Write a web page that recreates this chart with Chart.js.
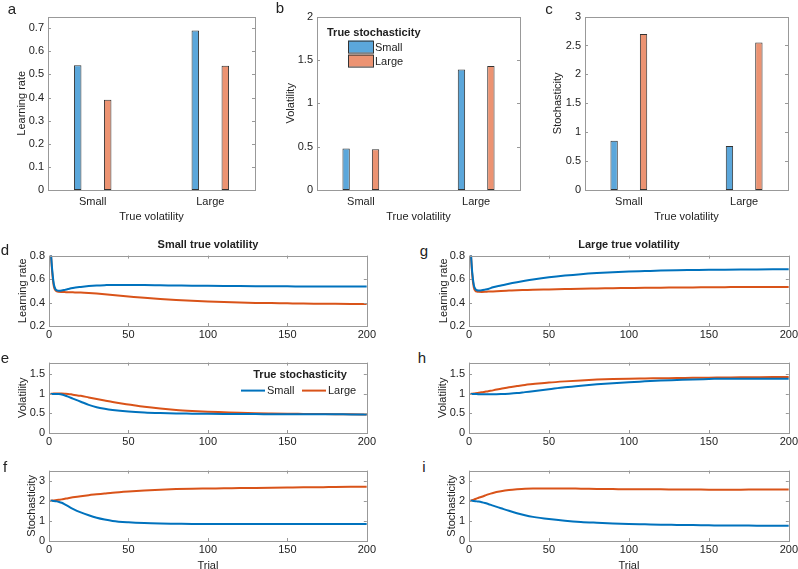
<!DOCTYPE html>
<html>
<head>
<meta charset="utf-8">
<title>Volatility and stochasticity</title>
<script src="https://cdn.jsdelivr.net/npm/chart.js"></script>
<style>
  body { margin: 0; background: #fff; }
  #fig { position: relative; width: 798px; height: 569px; overflow: hidden;
         font-family: 'Liberation Sans', Arial, Helvetica, sans-serif; color: #222; }
  #fig canvas { position: absolute; }
  .lbl { position: absolute; font-size: 15px; line-height: 1; transform: translate(-50%, -50%); }
  .ttl { position: absolute; font-size: 11px; font-weight: bold; line-height: 1; white-space: nowrap;
         transform: translate(-50%, -50%); }
</style>
</head>
<body>
<div id="fig">
  <canvas id="a"></canvas><canvas id="b"></canvas><canvas id="c"></canvas>
  <canvas id="d"></canvas><canvas id="e"></canvas><canvas id="f"></canvas>
  <canvas id="g"></canvas><canvas id="h"></canvas><canvas id="i"></canvas>

  <div class="lbl" style="left:12px;top:8px">a</div>
  <div class="lbl" style="left:280px;top:7px">b</div>
  <div class="lbl" style="left:549px;top:8px">c</div>
  <div class="lbl" style="left:5px;top:249px">d</div>
  <div class="lbl" style="left:5px;top:357px">e</div>
  <div class="lbl" style="left:5px;top:466px">f</div>
  <div class="lbl" style="left:424px;top:250px">g</div>
  <div class="lbl" style="left:422px;top:357px">h</div>
  <div class="lbl" style="left:424px;top:466px">i</div>

  <div class="ttl" style="left:208px;top:244px">Small true volatility</div>
  <div class="ttl" style="left:629px;top:244px">Large true volatility</div>
</div>

<script>
// ---- data ----
const categories = ['Small', 'Large'];          // true volatility
const seriesNames = ['Small', 'Large'];         // true stochasticity

// bar panels, one value per true-volatility category
const lrSmallStoch = [0.54, 0.69];
const lrLargeStoch = [0.39, 0.537];
const volSmallStoch = [0.48, 1.39];
const volLargeStoch = [0.47, 1.43];
const stoSmallStoch = [0.85, 0.76];
const stoLargeStoch = [2.70, 2.55];

// trial curves
const trials = [1, 2, 3, 4, 5, 6, 8, 10, 12, 15, 20, 25, 30, 35, 40, 50, 60, 70, 80, 90, 100,
                110, 120, 130, 140, 150, 160, 170, 180, 190, 200];

// d: learning rate, small true volatility
const lrSmallVolBlue = [0.86, 0.68, 0.56, 0.515, 0.503, 0.5, 0.502, 0.508, 0.515, 0.524, 0.533, 0.54, 0.545, 0.548, 0.55, 0.55,
                        0.549, 0.547, 0.545, 0.543, 0.542, 0.541, 0.54, 0.539, 0.538, 0.538, 0.537, 0.537, 0.537, 0.536, 0.536];
const lrSmallVolOrange = [0.86, 0.66, 0.54, 0.505, 0.495, 0.492, 0.49, 0.489, 0.488, 0.487, 0.485, 0.481, 0.476, 0.47, 0.464, 0.452,
                          0.44, 0.43, 0.422, 0.415, 0.409, 0.404, 0.4, 0.397, 0.395, 0.393, 0.391, 0.39, 0.389, 0.388, 0.387];
// g: learning rate, large true volatility
const lrLargeVolBlue = [0.86, 0.66, 0.55, 0.515, 0.505, 0.503, 0.505, 0.51, 0.516, 0.53, 0.545, 0.56, 0.573, 0.585, 0.596, 0.615,
                        0.63, 0.642, 0.651, 0.658, 0.664, 0.668, 0.672, 0.675, 0.677, 0.679, 0.68, 0.681, 0.682, 0.683, 0.684];
const lrLargeVolOrange = [0.86, 0.64, 0.53, 0.5, 0.493, 0.491, 0.49, 0.491, 0.493, 0.495, 0.499, 0.502, 0.505, 0.507, 0.509, 0.512,
                          0.515, 0.518, 0.52, 0.522, 0.524, 0.526, 0.527, 0.528, 0.529, 0.53, 0.531, 0.532, 0.532, 0.533, 0.533];
// e: volatility, small true volatility
const volSmallVolBlue = [1, 1, 1, 0.999, 0.997, 0.995, 0.985, 0.96, 0.93, 0.88, 0.8, 0.72, 0.66, 0.62, 0.59, 0.55,
                         0.525, 0.51, 0.5, 0.495, 0.49, 0.487, 0.485, 0.483, 0.482, 0.48, 0.479, 0.478, 0.477, 0.476, 0.475];
const volSmallVolOrange = [1, 1.005, 1.008, 1.01, 1.01, 1.01, 1.008, 1.005, 1.0, 0.98, 0.95, 0.91, 0.87, 0.83, 0.79, 0.73,
                           0.67, 0.625, 0.59, 0.565, 0.545, 0.53, 0.515, 0.505, 0.498, 0.492, 0.488, 0.484, 0.48, 0.477, 0.475];
// h: volatility, large true volatility
const volLargeVolBlue = [1, 1, 0.998, 0.996, 0.994, 0.993, 0.99, 0.99, 0.99, 0.99, 0.995, 1.005, 1.02, 1.045, 1.07, 1.12,
                         1.17, 1.21, 1.245, 1.275, 1.3, 1.32, 1.34, 1.355, 1.37, 1.38, 1.39, 1.385, 1.39, 1.39, 1.39];
const volLargeVolOrange = [1, 1.003, 1.008, 1.015, 1.02, 1.027, 1.04, 1.055, 1.07, 1.09, 1.13, 1.17, 1.2, 1.23, 1.25, 1.29,
                           1.32, 1.345, 1.365, 1.38, 1.39, 1.395, 1.4, 1.405, 1.41, 1.415, 1.42, 1.425, 1.428, 1.43, 1.43];
// f: stochasticity, small true volatility
const stoSmallVolBlue = [2, 2, 1.99, 1.98, 1.97, 1.95, 1.9, 1.82, 1.73, 1.6, 1.42, 1.28, 1.16, 1.07, 1.0, 0.93,
                         0.89, 0.87, 0.86, 0.85, 0.845, 0.842, 0.84, 0.84, 0.84, 0.84, 0.84, 0.84, 0.84, 0.84, 0.84];
const stoSmallVolOrange = [2, 2.01, 2.02, 2.03, 2.04, 2.05, 2.07, 2.1, 2.13, 2.17, 2.23, 2.28, 2.32, 2.36, 2.4, 2.46,
                           2.51, 2.55, 2.58, 2.6, 2.61, 2.62, 2.63, 2.64, 2.65, 2.66, 2.67, 2.67, 2.69, 2.7, 2.7];
// i: stochasticity, large true volatility
const stoLargeVolBlue = [2, 2, 1.99, 1.98, 1.97, 1.96, 1.93, 1.89, 1.84, 1.76, 1.63, 1.5, 1.38, 1.28, 1.2, 1.09,
                         1.01, 0.95, 0.91, 0.875, 0.85, 0.83, 0.81, 0.8, 0.79, 0.78, 0.77, 0.77, 0.76, 0.76, 0.76];
const stoLargeVolOrange = [2, 2.03, 2.06, 2.09, 2.12, 2.15, 2.2, 2.26, 2.32, 2.39, 2.47, 2.53, 2.57, 2.6, 2.61, 2.61,
                           2.61, 2.6, 2.59, 2.58, 2.57, 2.57, 2.57, 2.56, 2.56, 2.55, 2.55, 2.55, 2.56, 2.56, 2.56];

// tick labels
const lrBarTicks = [0, 0.1, 0.2, 0.3, 0.4, 0.5, 0.6, 0.7];
const volBarTicks = [0, 0.5, 1, 1.5, 2];
const stoBarTicks = [0, 0.5, 1, 1.5, 2, 2.5, 3];
const trialTicks = [0, 50, 100, 150, 200];
const lrLineTicks = [0.2, 0.4, 0.6, 0.8];
const volLineTicks = [0, 0.5, 1, 1.5];
const stoLineTicks = [0, 1, 2, 3];

// ---- style ----
const FONT = "'Liberation Sans', Arial, Helvetica, sans-serif";
const INK = '#222';
const BOX = '#999';
const BLUE_FILL = '#5BA7DB', ORANGE_FILL = '#EC9372';
const BLUE_LINE = '#0072BD', ORANGE_LINE = '#D95319';
const AXIS_W = 40, PAD_TOP = 8, PAD_RIGHT = 10;

// box around the plot, inward ticks, and an inside legend
const frame = {
    id: 'frame',
    afterDatasetsDraw(chart, args, opts) {
        const ctx = chart.ctx, a = chart.chartArea, sx = chart.scales.x, sy = chart.scales.y;
        ctx.save();
        ctx.strokeStyle = BOX;
        ctx.lineWidth = 1;
        ctx.beginPath();
        if (opts.xTicks) {
            sx.ticks.forEach(tk => {
                const p = Math.round(sx.getPixelForValue(tk.value)) + 0.5;
                ctx.moveTo(p, a.bottom); ctx.lineTo(p, a.bottom - 3);
                ctx.moveTo(p, a.top); ctx.lineTo(p, a.top + 3);
            });
        }
        sy.ticks.forEach(tk => {
            const p = Math.round(sy.getPixelForValue(tk.value)) + 0.5;
            ctx.moveTo(a.left, p); ctx.lineTo(a.left + 3, p);
            ctx.moveTo(a.right, p); ctx.lineTo(a.right - 3, p);
        });
        ctx.stroke();
        ctx.strokeRect(Math.round(a.left) + 0.5, Math.round(a.top) + 0.5, Math.round(a.width), Math.round(a.height));

        const lg = opts.legend;
        if (lg) {
            ctx.fillStyle = INK;
            ctx.textBaseline = 'middle';
            ctx.font = 'bold 11px ' + FONT;
            ctx.textAlign = lg.align;
            ctx.fillText(lg.title, a.left + lg.tx, a.top + lg.ty);
            ctx.font = '11px ' + FONT;
            ctx.textAlign = 'left';
            chart.data.datasets.forEach((ds, k) => {
                const it = lg.items[k];
                const x = a.left + it.x, y = a.top + it.y;
                if (lg.kind === 'box') {
                    ctx.fillStyle = ds.backgroundColor;
                    ctx.fillRect(x, y - 6, 25, 12);
                    ctx.strokeStyle = '#333';
                    ctx.strokeRect(x + 0.5, y - 5.5, 25, 12);
                    ctx.fillStyle = INK;
                    ctx.fillText(ds.label, x + 27, y + 1);
                } else {
                    ctx.strokeStyle = ds.borderColor;
                    ctx.lineWidth = 2;
                    ctx.beginPath(); ctx.moveTo(x, y); ctx.lineTo(x + 24, y); ctx.stroke();
                    ctx.fillStyle = INK;
                    ctx.fillText(ds.label, x + 26, y);
                }
            });
        }
        ctx.restore();
    }
};

function place(id, box, xH) {
    const c = document.getElementById(id);
    const left = box[0] - AXIS_W;
    c.style.left = left + 'px';
    c.style.top = (box[1] - PAD_TOP) + 'px';
    c.width = box[2] - box[0] + AXIS_W + PAD_RIGHT;
    c.height = box[3] - box[1] + PAD_TOP + xH;
    return { c, left };
}

function yAxis(min, max, ticks, label, titlePad) {
    return {
        min: min, max: max,
        grid: { display: false, drawTicks: false }, border: { display: false },
        afterBuildTicks: s => { s.ticks = ticks.map(v => ({ value: v })); },
        ticks: { callback: v => String(v), color: INK, font: { family: FONT, size: 11 }, padding: 4 },
        title: { display: true, text: label, color: INK, font: { family: FONT, size: 11 },
                 padding: { top: titlePad, bottom: 0 } },
        afterFit: s => { s.width = AXIS_W; }
    };
}

function barPanel(id, box, yTitleX, yLabel, yMax, yTicks, blue, orange, legend) {
    const xH = 38;
    const p = place(id, box, xH);
    new Chart(p.c, {
        type: 'bar',
        data: {
            datasets: [
                { label: seriesNames[0], data: blue.map((v, k) => ({ x: k + 1, y: v })),
                  backgroundColor: BLUE_FILL, borderColor: '#333', borderWidth: 1, borderSkipped: false,
                  categoryPercentage: 0.51, barPercentage: 0.25 },
                { label: seriesNames[1], data: orange.map((v, k) => ({ x: k + 1, y: v })),
                  backgroundColor: ORANGE_FILL, borderColor: '#333', borderWidth: 1, borderSkipped: false,
                  categoryPercentage: 0.51, barPercentage: 0.25 }
            ]
        },
        options: {
            responsive: false, animation: false, events: [],
            layout: { padding: { left: 0, top: PAD_TOP, right: PAD_RIGHT, bottom: 0 } },
            plugins: { legend: { display: false }, tooltip: { enabled: false },
                       frame: { legend: legend, xTicks: false } },
            scales: {
                x: {
                    type: 'linear', offset: false, min: 0.62, max: 2.38,
                    grid: { display: false, drawTicks: false }, border: { display: false },
                    afterBuildTicks: s => { s.ticks = categories.map((_, k) => ({ value: k + 1 })); },
                    ticks: { callback: v => categories[v - 1], color: INK, font: { family: FONT, size: 11 },
                             padding: 5, maxRotation: 0, autoSkip: false },
                    title: { display: true, text: 'True volatility', color: INK, font: { family: FONT, size: 11 },
                             padding: { top: 0, bottom: 4 } },
                    afterFit: s => { s.height = xH; }
                },
                y: yAxis(0, yMax, yTicks, yLabel, yTitleX - p.left - 6.6)
            }
        },
        plugins: [frame]
    });
}

function linePanel(id, box, yTitleX, yLabel, yMin, yMax, yTicks, blue, orange, showTrial, legend) {
    const xH = showTrial ? 36 : 20;
    const p = place(id, box, xH);
    const mk = (arr, name, color) => ({
        label: name, data: trials.map((t, k) => ({ x: t, y: arr[k] })),
        borderColor: color, backgroundColor: color, borderWidth: 2, pointRadius: 0,
        cubicInterpolationMode: 'monotone', fill: false
    });
    new Chart(p.c, {
        type: 'line',
        data: { datasets: [mk(blue, seriesNames[0], BLUE_LINE), mk(orange, seriesNames[1], ORANGE_LINE)] },
        options: {
            responsive: false, animation: false, events: [],
            layout: { padding: { left: 0, top: PAD_TOP, right: PAD_RIGHT, bottom: 0 } },
            plugins: { legend: { display: false }, tooltip: { enabled: false },
                       frame: { legend: legend, xTicks: true } },
            scales: {
                x: {
                    type: 'linear', min: 0, max: 200,
                    grid: { display: false, drawTicks: false }, border: { display: false },
                    afterBuildTicks: s => { s.ticks = trialTicks.map(v => ({ value: v })); },
                    ticks: { callback: v => String(v), color: INK, font: { family: FONT, size: 11 },
                             padding: 2, maxRotation: 0, autoSkip: false },
                    title: { display: showTrial, text: 'Trial', color: INK, font: { family: FONT, size: 11 },
                             padding: { top: 0, bottom: 4 } },
                    afterFit: s => { s.height = xH; }
                },
                y: yAxis(yMin, yMax, yTicks, yLabel, yTitleX - p.left - 6.6)
            }
        },
        plugins: [frame]
    });
}

barPanel('a', [48, 14, 255, 190], 22, 'Learning rate', 0.75, lrBarTicks, lrSmallStoch, lrLargeStoch, null);
barPanel('b', [317, 14, 520, 190], 291, 'Volatility', 2, volBarTicks, volSmallStoch, volLargeStoch,
    { kind: 'box', title: 'True stochasticity', align: 'left', tx: 10, ty: 16,
      items: [{ x: 31, y: 30 }, { x: 31, y: 44 }] });
barPanel('c', [585, 14, 788, 190], 558, 'Stochasticity', 3, stoBarTicks, stoSmallStoch, stoLargeStoch, null);

linePanel('d', [49, 253, 368, 326], 23, 'Learning rate', 0.2, 0.8, lrLineTicks, lrSmallVolBlue, lrSmallVolOrange, false, null);
linePanel('e', [49, 360, 368, 433], 23, 'Volatility', 0, 1.8, volLineTicks, volSmallVolBlue, volSmallVolOrange, false,
    { kind: 'line', title: 'True stochasticity', align: 'center', tx: 251, ty: 12,
      items: [{ x: 192, y: 28 }, { x: 253, y: 28 }] });
linePanel('f', [49, 468, 368, 541], 32, 'Stochasticity', 0, 3.5, stoLineTicks, stoSmallVolBlue, stoSmallVolOrange, true, null);

linePanel('g', [469, 253, 790, 326], 444, 'Learning rate', 0.2, 0.8, lrLineTicks, lrLargeVolBlue, lrLargeVolOrange, false, null);
linePanel('h', [469, 360, 790, 433], 443, 'Volatility', 0, 1.8, volLineTicks, volLargeVolBlue, volLargeVolOrange, false, null);
linePanel('i', [469, 468, 790, 541], 452, 'Stochasticity', 0, 3.5, stoLineTicks, stoLargeVolBlue, stoLargeVolOrange, true, null);
</script>
</body>
</html>
